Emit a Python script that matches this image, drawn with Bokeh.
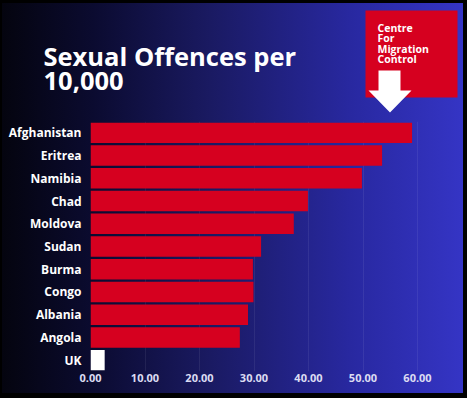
from bokeh.plotting import figure
from bokeh.layouts import column, row
from bokeh.models import (ColumnDataSource, FactorRange, Range1d, FixedTicker,
                          NumeralTickFormatter, Label, BoxAnnotation, PolyAnnotation)
from bokeh.embed import file_html
from bokeh.resources import INLINE

# ---- data ----
categories = ["Afghanistan", "Eritrea", "Namibia", "Chad", "Moldova", "Sudan",
              "Burma", "Congo", "Albania", "Angola", "UK"]
values = [59.0, 53.5, 49.8, 39.9, 37.3, 31.3, 29.8, 29.9, 28.9, 27.4, 2.6]
x_ticks = [0, 10, 20, 30, 40, 50, 60]
title_lines = ["Sexual Offences per", "10,000"]
logo_lines = ["Centre", "For", "Migration", "Control"]

RED = "#d6001f"
GRADIENT = ("linear-gradient(90deg, #04040e 0%, #0b0b30 20%, #1a1a62 45%, "
            "#2828a0 75%, #3535c6 100%)")
colors = ["#ffffff" if c == "UK" else RED for c in categories]
src = ColumnDataSource(dict(cat=categories, val=values, color=colors))

W = 467
LEFT = 90
HEAD_H = 120
MAIN_H = 398 - HEAD_H

# ---------- header (title + logo) ----------
head = figure(width=W, height=HEAD_H, output_backend="svg", toolbar_location=None,
              x_range=Range1d(0, W), y_range=Range1d(HEAD_H, 0),
              x_axis_location=None, y_axis_location=None,
              min_border=0, background_fill_color=None, border_fill_color=None,
              outline_line_color=None)
head.grid.grid_line_color = None

for txt, base in zip(title_lines, [55.5, 80.5]):
    head.add_layout(Label(x=43, y=base, text=txt, text_font="Open Sans",
                          text_font_style="bold", text_font_size="25.5px",
                          text_color="#ffffff", text_baseline="alphabetic",
                          text_align="left"))

head.add_layout(BoxAnnotation(left=365, right=457, top=10, bottom=97,
                              fill_color=RED, fill_alpha=1.0, line_color=None))
for txt, base in zip(logo_lines, [27, 37.5, 48, 58.5]):
    head.add_layout(Label(x=377, y=base, text=txt, text_font="Open Sans",
                          text_font_style="bold", text_font_size="10.5px",
                          text_color="#ffffff", text_baseline="alphabetic",
                          text_align="left"))
head.add_layout(PolyAnnotation(xs=[378, 400, 400, 411, 389.5, 368, 378],
                               ys=[70, 70, 90, 90, 112, 90, 90],
                               fill_color="#ffffff", fill_alpha=1.0, line_color=None))

# ---------- bar chart ----------
p = figure(width=W, height=MAIN_H, output_backend="svg", toolbar_location=None,
           y_range=FactorRange(factors=list(reversed(categories)), range_padding=0),
           x_range=Range1d(0, (W - LEFT) / 5.45),
           min_border_left=LEFT, min_border_right=0, min_border_top=1, min_border_bottom=27,
           background_fill_color=None, border_fill_color=None, outline_line_color=None)

p.hbar(y="cat", right="val", left=0, height=0.9, source=src,
       fill_color="color", line_color=None)

p.xaxis.ticker = FixedTicker(ticks=x_ticks)
p.xaxis.formatter = NumeralTickFormatter(format="0.00")
for ax in (p.xaxis, p.yaxis):
    ax.axis_line_color = None
    ax.major_tick_line_color = None
    ax.minor_tick_line_color = None
    ax.major_tick_out = 0
    ax.major_tick_in = 0
    ax.major_label_text_font = "Open Sans"
    ax.major_label_text_font_style = "bold"
p.xaxis.major_label_text_color = "#dcdcf2"
p.xaxis.major_label_text_font_size = "11px"
p.xaxis.major_label_standoff = 2
p.yaxis.major_label_text_color = "#ffffff"
p.yaxis.major_label_text_font_size = "12px"
p.yaxis.major_label_standoff = 9

p.xgrid.grid_line_color = "#ffffff"
p.xgrid.grid_line_alpha = 0.07
p.ygrid.grid_line_color = None

# the header sits in its own row so its frame is not aligned with the chart frame
layout = column(row(head, spacing=0), p, spacing=0)
layout.styles = {"background": GRADIENT,
                 "box-shadow": "inset -4px -5px 0 0 #000000, inset 2px 3px 0 0 #000000"}

open("out.html", "w").write(file_html(layout, INLINE))
